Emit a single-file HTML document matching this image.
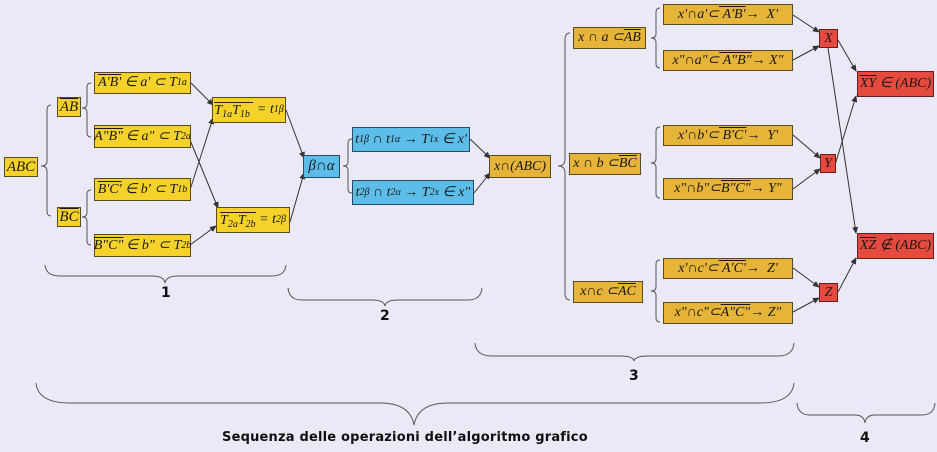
<!DOCTYPE html>
<html><head><meta charset="utf-8"><style>
html,body{margin:0;padding:0}
body{width:937px;height:452px;background:#ebe9f6;position:relative;overflow:hidden;font-family:"Liberation Serif",serif}
.b{position:absolute;box-sizing:border-box;border:1px solid #5a4a20;font-style:italic;font-size:14px;color:#1a1a1a;display:flex;align-items:center;justify-content:center;white-space:nowrap;line-height:1}
.y{background:#f4d22a}
.g{background:#e7b43a}
.c{background:#5cbde9;border-color:#2a4a60}
.r{background:#e64a3e;border-color:#602020}
.o{text-decoration:overline}
.ol{border-top:1px solid #222;padding-top:1px}
sub{font-size:10px;vertical-align:-3px;line-height:0}
.lab{position:absolute;font-family:"DejaVu Sans",sans-serif;font-weight:bold;font-size:14px;color:#111}
.big{font-size:15px}
</style></head><body>
<svg width="937" height="452" style="position:absolute;left:0;top:0" fill="none" stroke="#555" stroke-width="1">
<defs><marker id="a" markerWidth="7" markerHeight="6" refX="6" refY="3" orient="auto"><path d="M0,0 L7,3 L0,6z" fill="#333" stroke="none"/></marker></defs>
<path d="M51 105 Q47 105 47 110 L47 161 Q47 166 41 166 Q47 166 47 171 L47 211 Q47 216 51 216"/>
<path d="M91 83 Q87 83 87 87 L87 104 Q87 108 82 108 Q87 108 87 112 L87 133 Q87 137 91 137"/>
<path d="M91 190 Q87 190 87 194 L87 213 Q87 217 82 217 Q87 217 87 221 L87 241 Q87 245 91 245"/>
<path d="M352 139 Q348 139 348 143 L348 162 Q348 166 343 166 Q348 166 348 170 L348 189 Q348 193 352 193"/>
<path d="M570 33 Q565 33 565 40 L565 159 Q565 166 558 166 Q565 166 565 173 L565 293 Q565 300 570 300"/>
<path d="M660 8 Q656 8 656 12 L656 34 Q656 38 651 38 Q656 38 656 42 L656 64 Q656 68 660 68"/>
<path d="M660 127 Q656 127 656 131 L656 159 Q656 163 651 163 Q656 163 656 167 L656 194 Q656 198 660 198"/>
<path d="M660 260 Q656 260 656 264 L656 287 Q656 291 651 291 Q656 291 656 295 L656 318 Q656 322 660 322"/>
<path d="M45 265 Q46 276 60 276 L152 276 Q164 276 165 283 Q166 276 178 276 L272 276 Q285 276 286 265"/>
<path d="M288 288 Q289 300 302 300 L372 300 Q384 300 385 306 Q386 300 398 300 L468 300 Q481 300 482 288"/>
<path d="M475 343 Q476 356 492 356 L620 356 Q633 356 634 361 Q635 356 648 356 L778 356 Q793 356 794 343"/>
<path d="M36 383 Q38 403 70 403 L380 403 Q410 403 414 425 Q418 403 448 403 L760 403 Q792 403 794 383"/>
<path d="M797 403 Q798 415 810 415 L855 415 Q864 415 865 423 Q866 415 875 415 L922 415 Q934 415 935 403"/>
<g stroke="#333" marker-end="url(#a)">
<line x1="190" y1="82" x2="213" y2="105"/>
<line x1="190" y1="140" x2="218" y2="208"/>
<line x1="190" y1="190" x2="213" y2="118"/>
<line x1="190" y1="245" x2="216" y2="226"/>
<line x1="286" y1="110" x2="304" y2="158"/>
<line x1="290" y1="222" x2="304" y2="173"/>
<line x1="470" y1="139" x2="490" y2="158"/>
<line x1="474" y1="193" x2="490" y2="173"/>
<line x1="793" y1="15" x2="819" y2="32"/>
<line x1="793" y1="60" x2="819" y2="46"/>
<line x1="793" y1="135" x2="820" y2="158"/>
<line x1="793" y1="189" x2="820" y2="169"/>
<line x1="793" y1="268" x2="819" y2="287"/>
<line x1="793" y1="312" x2="819" y2="298"/>
<line x1="838" y1="40" x2="856" y2="71"/>
<line x1="828" y1="48" x2="856" y2="233"/>
<line x1="835" y1="165" x2="856" y2="96"/>
<line x1="838" y1="292" x2="856" y2="258"/>
</g>
</svg>

<div class="b y big" style="left:4px;top:157px;width:34px;height:20px">ABC</div>
<div class="b y big" style="left:57px;top:97px;width:24px;height:20px"><span class="o">AB</span></div>
<div class="b y big" style="left:57px;top:207px;width:24px;height:20px"><span class="o">BC</span></div>
<div class="b y" style="left:94px;top:72px;width:97px;height:22px"><span class="o">A'B'</span>&nbsp;∈ a' ⊂ T<sub>1a</sub></div>
<div class="b y" style="left:94px;top:125px;width:97px;height:23px"><span class="o">A"B"</span>&thinsp;∈ a" ⊂ T<sub>2a</sub></div>
<div class="b y" style="left:94px;top:178px;width:97px;height:23px"><span class="o">B'C'</span>&nbsp;∈ b' ⊂ T<sub>1b</sub></div>
<div class="b y" style="left:94px;top:234px;width:97px;height:23px"><span class="o">B"C"</span>&thinsp;∈ b" ⊂ T<sub>2b</sub></div>
<div class="b y" style="left:212px;top:97px;width:74px;height:26px"><span class="ol">T<sub>1a</sub>T<sub>1b</sub>&nbsp;</span>&nbsp;= t<sub>1β</sub></div>
<div class="b y" style="left:216px;top:207px;width:74px;height:26px"><span class="ol">T<sub>2a</sub>T<sub>2b</sub></span>&nbsp;= t<sub>2β</sub></div>
<div class="b c big" style="left:303px;top:155px;width:37px;height:23px">β∩α</div>
<div class="b c" style="left:352px;top:127px;width:118px;height:25px">t<sub>1β</sub>&nbsp;∩ t<sub>1α</sub>&nbsp;→ T<sub>1x</sub>&nbsp;∈ x'</div>
<div class="b c" style="left:352px;top:180px;width:122px;height:25px">t<sub>2β</sub>&nbsp;∩ t<sub>2α</sub>&nbsp;→ T<sub>2x</sub>&nbsp;∈ x"</div>
<div class="b g" style="left:489px;top:155px;width:62px;height:23px">x∩(ABC)</div>
<div class="b g" style="left:573px;top:27px;width:73px;height:22px">x ∩ a ⊂ <span class="o">AB</span></div>
<div class="b g" style="left:569px;top:153px;width:72px;height:22px">x ∩ b ⊂ <span class="o">BC</span></div>
<div class="b g" style="left:573px;top:281px;width:70px;height:22px">x∩c ⊂ <span class="o">AC</span></div>
<div class="b g" style="left:663px;top:4px;width:130px;height:21px">x'∩a'⊂ <span class="o">&nbsp;A'B'</span>→&nbsp; X'</div>
<div class="b g" style="left:663px;top:50px;width:130px;height:21px">x"∩a"⊂ <span class="o">&nbsp;A"B"</span>→ X"</div>
<div class="b g" style="left:663px;top:125px;width:130px;height:21px">x'∩b'⊂ <span class="o">&nbsp;B'C'</span>→&nbsp; Y'</div>
<div class="b g" style="left:663px;top:178px;width:130px;height:22px">x"∩b"⊂ <span class="o">B"C"</span>→ Y"</div>
<div class="b g" style="left:663px;top:258px;width:130px;height:21px">x'∩c'⊂ <span class="o">&nbsp;A'C'</span>→&nbsp; Z'</div>
<div class="b g" style="left:663px;top:302px;width:130px;height:22px">x"∩c"⊂ <span class="o">A"C"</span>→ Z"</div>
<div class="b r" style="left:819px;top:29px;width:19px;height:19px">X</div>
<div class="b r" style="left:820px;top:154px;width:16px;height:19px">Y</div>
<div class="b r" style="left:819px;top:283px;width:19px;height:19px">Z</div>
<div class="b r" style="left:857px;top:71px;width:77px;height:26px"><span class="o">XY</span>&nbsp;∈ (ABC)</div>
<div class="b r" style="left:857px;top:233px;width:77px;height:26px"><span class="o">XZ</span>&nbsp;∉ (ABC)</div>

<div class="lab" style="left:161px;top:285px">1</div>
<div class="lab" style="left:380px;top:308px">2</div>
<div class="lab" style="left:629px;top:368px">3</div>
<div class="lab" style="left:860px;top:430px">4</div>
<div class="lab" style="left:222px;top:430px;font-size:13px;letter-spacing:0.2px">Sequenza delle operazioni dell’algoritmo grafico</div>
</body></html>
